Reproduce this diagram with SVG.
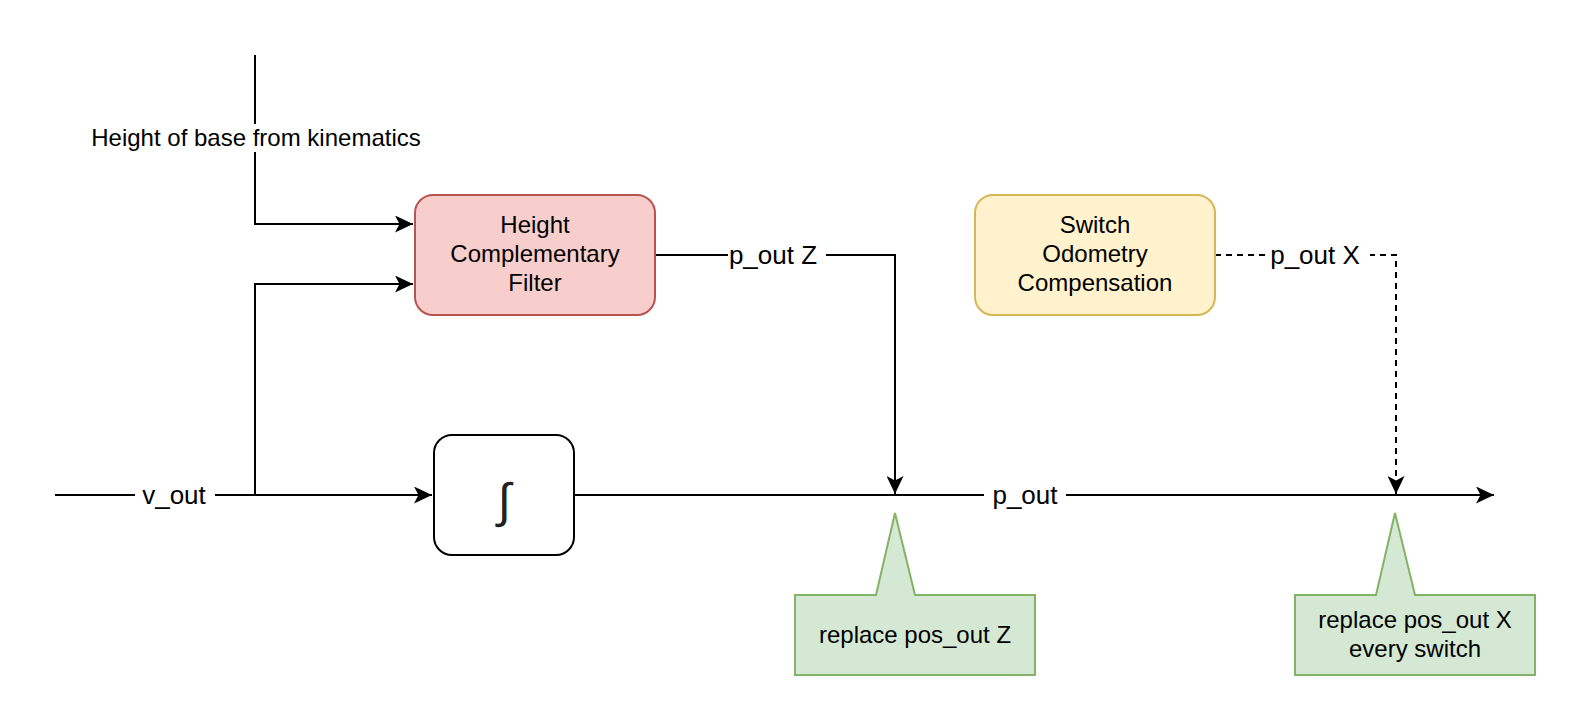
<svg xmlns="http://www.w3.org/2000/svg" width="1576" height="716" viewBox="0 0 1576 716">
<style>
text{font-family:"Liberation Sans",Arial,sans-serif;font-size:24px;fill:#000;text-anchor:middle}
.el{font-size:26px}
.edge{fill:none;stroke:#000;stroke-width:2}
.dash{stroke-dasharray:6 5}
.lbl{fill:#fff;stroke:none}
</style>
<defs>
<marker id="arr" markerUnits="userSpaceOnUse" markerWidth="18" markerHeight="17" viewBox="0 0 18 17" refX="18" refY="8.5" orient="auto">
<path d="M0,0 L18,8.5 L0,17 L4.5,8.5 Z" fill="#000"/>
</marker>
</defs>
<rect width="1576" height="716" fill="#fff"/>
<g id="connectors">
<path class="edge" d="M255,55 L255,224 L413,224" marker-end="url(#arr)"/>
<rect class="lbl" x="88" y="124" width="338" height="28"/>
<text x="256" y="146">Height of base from kinematics</text>
<path class="edge" d="M55,495 L432,495" marker-end="url(#arr)"/>
<path class="edge" d="M255,495 L255,284 L413,284" marker-end="url(#arr)"/>
<rect class="lbl" x="135" y="482" width="80" height="26"/>
<text class="el" x="174" y="504">v_out</text>
<path class="edge" d="M575,495 L1494,495" marker-end="url(#arr)"/>
<rect class="lbl" x="984" y="482" width="82" height="26"/>
<text class="el" x="1025" y="504">p_out</text>
<path class="edge" d="M655,255 L895,255 L895,494" marker-end="url(#arr)"/>
<rect class="lbl" x="728" y="242" width="98" height="26"/>
<text class="el" x="773" y="264">p_out Z</text>
<path class="edge dash" d="M1215,255 L1396,255 L1396,494" marker-end="url(#arr)"/>
<rect class="lbl" x="1265" y="242" width="105" height="26"/>
<text class="el" x="1315" y="264">p_out X</text>
</g>
<g id="height-filter">
<rect x="415" y="195" width="240" height="120" rx="18" fill="#f8cecc" stroke="#b85450" stroke-width="2"/>
<text x="535" y="233">Height</text>
<text x="535" y="262">Complementary</text>
<text x="535" y="291">Filter</text>
</g>
<g id="switch-odometry">
<rect x="975" y="195" width="240" height="120" rx="18" fill="#fff2cc" stroke="#d6b656" stroke-width="2"/>
<text x="1095" y="233">Switch</text>
<text x="1095" y="262">Odometry</text>
<text x="1095" y="291">Compensation</text>
</g>
<g id="integrator">
<rect x="434" y="435" width="140" height="120" rx="18" fill="#fff" stroke="#000" stroke-width="2"/>
<text x="504" y="517" style="font-size:48px;fill:#222">∫</text>
</g>
<g id="callout-z">
<path d="M795,595 L876,595 L895,513 L915,595 L1035,595 L1035,675 L795,675 Z" fill="#d5e8d4" stroke="#82b366" stroke-width="2"/>
<text x="915" y="643">replace pos_out Z</text>
</g>
<g id="callout-x">
<path d="M1295,595 L1376,595 L1395,513 L1415,595 L1535,595 L1535,675 L1295,675 Z" fill="#d5e8d4" stroke="#82b366" stroke-width="2"/>
<text x="1415" y="628">replace pos_out X</text>
<text x="1415" y="657">every switch</text>
</g>
</svg>
